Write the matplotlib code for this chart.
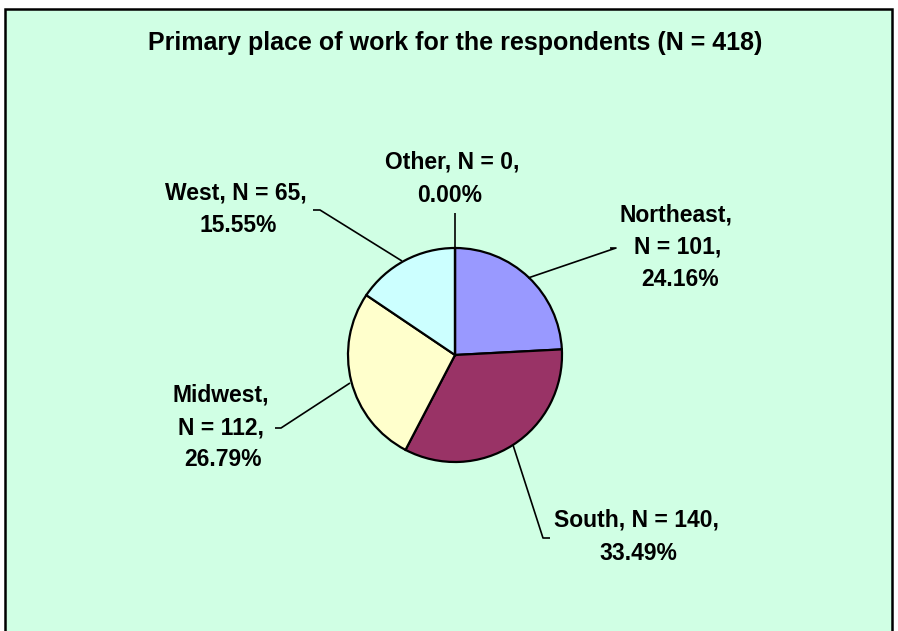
import matplotlib
matplotlib.use("Agg")
import matplotlib.pyplot as plt
from matplotlib.patches import Rectangle

# ---- data ----
regions = ["Northeast", "South", "Midwest", "West", "Other"]
counts = [101, 140, 112, 65, 0]
percents = ["24.16%", "33.49%", "26.79%", "15.55%", "0.00%"]
total_n = 418
colors = ["#9999FF", "#993366", "#FFFFCC", "#CCFFFF", "#000000"]

W, H = 898, 631
plt.rcParams['font.family'] = ['Liberation Sans', 'DejaVu Sans']

fig = plt.figure(figsize=(W / 100, H / 100), dpi=100)
fig.patch.set_facecolor("white")
ax = fig.add_axes([0, 0, 1, 1])


def P(x, y):
    return (x, H - y)


# background panel with border
ax.add_patch(Rectangle(P(5, 645), 887, 645 - 9, facecolor="#D0FFE4",
                       edgecolor="black", linewidth=1.8, zorder=0))

cx, cy = P(455, 355)
ax.pie(counts, startangle=90, counterclock=False, center=(cx, cy), radius=107,
       colors=colors,
       wedgeprops=dict(edgecolor="black", linewidth=1.6))

ax.set_xlim(0, W)
ax.set_ylim(0, H)
ax.set_aspect("equal")
ax.axis("off")

fs = 16.5
tk = dict(fontsize=fs, fontweight="bold", ha="center", va="center", color="black")

# label lines (text built from data)
lab = {}
for r, c, p in zip(regions, counts, percents):
    lab[r] = (r, c, p)

# Other
r, c, p = lab["Other"]
ax.text(*P(452, 162), f"{r}, N = {c},", **tk)
ax.text(*P(450, 196), p, **tk)
# West
r, c, p = lab["West"]
ax.text(*P(236, 193), f"{r}, N = {c},", **tk)
ax.text(*P(238, 225), p, **tk)
# Northeast
r, c, p = lab["Northeast"]
ax.text(*P(676, 215), f"{r},", **tk)
ax.text(*P(678, 247), f"N = {c},", **tk)
ax.text(*P(680, 279), p, **tk)
# South
r, c, p = lab["South"]
ax.text(*P(636, 520), f"{r}, N = {c},", **tk)
ax.text(*P(638, 554), p, **tk)
# Midwest
r, c, p = lab["Midwest"]
ax.text(*P(221, 395), f"{r},", **tk)
ax.text(*P(221, 428), f"N = {c},", **tk)
ax.text(*P(223, 460), p, **tk)

# leader lines
lk = dict(color="black", linewidth=1.2, solid_capstyle="butt")
def leader(pts):
    xs = [P(*q)[0] for q in pts]
    ys = [P(*q)[1] for q in pts]
    ax.plot(xs, ys, **lk)

leader([(455, 248), (455, 213)])
leader([(402, 261), (320, 210), (313, 210)])
leader([(528, 278), (616, 248), (610, 248)])
leader([(513, 445), (543, 538), (550, 538)])
leader([(350, 383), (281, 428), (275, 428)])

ax.text(*P(455, 43), f"Primary place of work for the respondents (N = {total_n})",
        fontsize=18, fontweight="bold", ha="center", va="center")

fig.savefig("out.png", dpi=100, facecolor=fig.get_facecolor())
